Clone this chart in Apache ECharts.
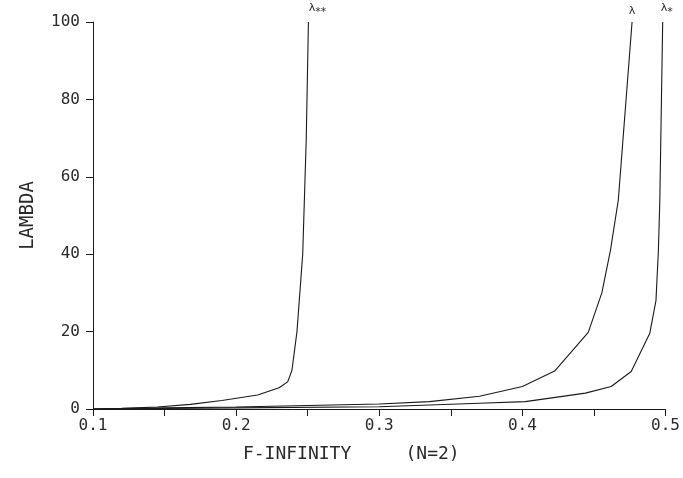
<!DOCTYPE html>
<html>
<head>
<meta charset="utf-8">
<script src="https://cdn.jsdelivr.net/npm/echarts@6/dist/echarts.min.js"></script>
<style>html,body{margin:0;padding:0;background:#fff}#c{width:683px;height:478px}</style>
</head>
<body>
<div id="c"></div>
<script>
// ---- data ----
const xTickLabels = ['0.1', '0.2', '0.3', '0.4', '0.5'];
const yTickLabels = ['0', '20', '40', '60', '80', '100'];

// curve lambda** (asymptote near 0.25)
const lamSS_x = [0.10, 0.12, 0.145, 0.168, 0.19, 0.215, 0.23, 0.236, 0.239, 0.2425, 0.2465, 0.249, 0.2505];
const lamSS_y = [0.0, 0.15, 0.5, 1.2, 2.2, 3.6, 5.5, 7.0, 10.0, 20.0, 40.0, 70.0, 100.0];

// curve lambda (asymptote near 0.477)
const lam_x = [0.10, 0.15, 0.20, 0.25, 0.30, 0.335, 0.37, 0.40, 0.4225, 0.446, 0.4555, 0.4615, 0.467, 0.4766];
const lam_y = [0.0, 0.3, 0.5, 0.9, 1.3, 1.9, 3.3, 5.8, 9.8, 19.8, 30.0, 41.0, 54.0, 100.0];

// curve lambda* (asymptote near 0.5)
const lamS_x = [0.10, 0.20, 0.30, 0.37, 0.402, 0.444, 0.462, 0.476, 0.489, 0.4933, 0.495, 0.496, 0.498];
const lamS_y = [0.0, 0.3, 0.6, 1.5, 1.9, 4.1, 5.8, 9.7, 19.6, 28.0, 41.0, 54.0, 100.0];

const curveNames = ['λ**', 'λ', 'λ*'];

// ---- build ----
const FONT = '"DejaVu Sans Mono", "Liberation Mono", monospace';
const INK = '#1a1a1a';
const TXT = '#2a2a2a';

function pairs(xs, ys, labelRich, labelOffset) {
  return xs.map((x, i) => {
    const item = { value: [x, ys[i]] };
    if (i === xs.length - 1) {
      item.label = {
        show: true,
        position: 'top',
        offset: labelOffset,
        formatter: labelRich,
        rich: {
          a: { fontFamily: 'DejaVu Sans, sans-serif', fontSize: 11, color: TXT },
          b: { fontFamily: 'DejaVu Sans, sans-serif', fontSize: 11, color: TXT, padding: [8, 0, 0, 0] }
        }
      };
    }
    return item;
  });
}

function series(name, data) {
  return {
    name: name,
    type: 'line',
    data: data,
    showSymbol: true,
    symbol: 'circle',
    symbolSize: 0,
    smooth: false,
    lineStyle: { color: INK, width: 1.1 },
    itemStyle: { color: INK },
    silent: true,
    animation: false,
    clip: false
  };
}

const chart = echarts.init(document.getElementById('c'), null, { renderer: 'canvas' });
chart.setOption({
  backgroundColor: '#fff',
  animation: false,
  grid: { left: 93, right: 17, top: 22, bottom: 69, containLabel: false },
  xAxis: {
    type: 'value',
    min: 0.1, max: 0.5, interval: 0.05,
    name: 'F-INFINITY     (N=2)',
    nameLocation: 'middle',
    nameGap: 36,
    nameTextStyle: { fontFamily: FONT, fontSize: 18, color: TXT, padding: [0, 56, 0, 0] },
    axisLine: { show: true, onZero: false, lineStyle: { color: INK, width: 1 } },
    axisTick: { show: true, inside: false, length: 7, lineStyle: { color: INK, width: 1 } },
    axisLabel: {
      fontFamily: FONT, fontSize: 16, color: TXT, margin: 9,
      formatter: function (v) {
        const t = (Math.round(v * 100) % 10 === 0) ? v.toFixed(1) : '';
        return xTickLabels.indexOf(t) >= 0 ? t : '';
      }
    },
    splitLine: { show: false }
  },
  yAxis: {
    type: 'value',
    min: 0, max: 100, interval: 20,
    name: 'LAMBDA',
    nameLocation: 'middle',
    nameRotate: 90,
    nameGap: 55,
    nameTextStyle: { fontFamily: FONT, fontSize: 19, color: TXT },
    axisLine: { show: true, lineStyle: { color: INK, width: 1 } },
    axisTick: { show: true, inside: false, length: 7, lineStyle: { color: INK, width: 1 } },
    axisLabel: {
      fontFamily: FONT, fontSize: 16, color: TXT, margin: 13,
      formatter: function (v) { const t = String(Math.round(v)); return yTickLabels.indexOf(t) >= 0 ? t : ''; }
    },
    splitLine: { show: false }
  },
  series: [
    series(curveNames[0], pairs(lamSS_x, lamSS_y, '{a|λ}{b|**}', [9, 1])),
    series(curveNames[1], pairs(lam_x, lam_y, '{a|λ}', [0, 0])),
    series(curveNames[2], pairs(lamS_x, lamS_y, '{a|λ}{b|*}', [4, 1]))
  ]
});
</script>
</body>
</html>
